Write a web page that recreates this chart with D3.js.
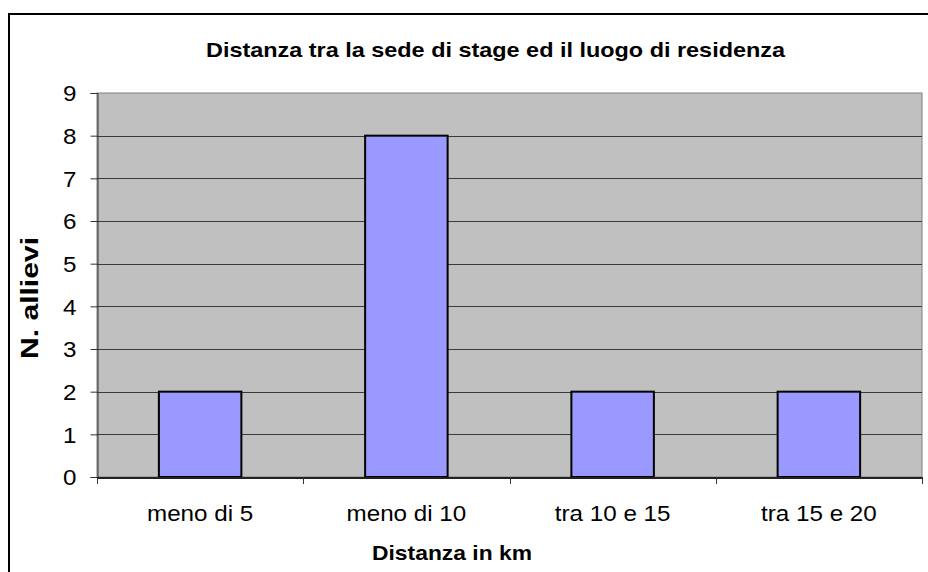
<!DOCTYPE html>
<html>
<head>
<meta charset="utf-8">
<script src="https://cdn.jsdelivr.net/npm/d3@7"></script>
<style>
  html, body { margin: 0; padding: 0; background: #fff; }
  svg { display: block; }
  text { font-family: "Liberation Sans", Arial, sans-serif; fill: #000; }
</style>
</head>
<body>
<svg id="chart" width="928" height="572"></svg>
<script>
const categories = ["meno di 5", "meno di 10", "tra 10 e 15", "tra 15 e 20"];
const values = [2, 8, 2, 2];
const yTicks = [0, 1, 2, 3, 4, 5, 6, 7, 8, 9];
const title = "Distanza tra la sede di stage ed il luogo di residenza";
const xTitle = "Distanza in km";
const yTitle = "N. allievi";

const svg = d3.select("#chart");
const W = 928, H = 572;
const plot = { left: 97, right: 922, top: 93, bottom: 477 };
const stretch = 1.1;

// outer frame (cut off at right and bottom)
svg.append("rect")
  .attr("x", 9).attr("y", 14)
  .attr("width", W).attr("height", H)
  .attr("fill", "#fff").attr("stroke", "#000").attr("stroke-width", 2);

const x = d3.scaleBand().domain(categories).range([plot.left, plot.right]).padding(0);
const y = d3.scaleLinear().domain([0, 9]).range([plot.bottom, plot.top]);

// plot background
svg.append("rect")
  .attr("x", plot.left).attr("y", plot.top)
  .attr("width", plot.right - plot.left).attr("height", plot.bottom - plot.top)
  .attr("fill", "#C0C0C0").attr("stroke", "#808080").attr("stroke-width", 1);

// gridlines
svg.append("g").selectAll("line")
  .data(yTicks.filter(t => t > 0 && t < 9))
  .join("line")
  .attr("x1", plot.left).attr("x2", plot.right)
  .attr("y1", d => Math.round(y(d)) + 0.5).attr("y2", d => Math.round(y(d)) + 0.5)
  .attr("stroke", "#3a3a3a").attr("stroke-width", 1);

// bars
const bw = x.step() * 0.4;
svg.append("g").selectAll("rect")
  .data(values)
  .join("rect")
  .attr("x", (d, i) => x(categories[i]) + (x.step() - bw) / 2)
  .attr("y", d => y(d))
  .attr("width", bw)
  .attr("height", d => y(0) - y(d))
  .attr("fill", "#9999FF").attr("stroke", "#000").attr("stroke-width", 2);

// y axis
const yAxis = svg.append("g")
  .attr("transform", `translate(${plot.left + 0.5},0)`)
  .call(d3.axisLeft(y).tickValues(yTicks).tickSize(7).tickPadding(14).tickFormat(d3.format("d")));
yAxis.select(".domain").attr("stroke", "#333");
yAxis.selectAll(".tick line").attr("stroke", "#333");
yAxis.selectAll(".tick text")
  .attr("font-size", 22)
  .attr("dy", "0.36em")
  .each(function () {
    const n = this.getComputedTextLength();
    d3.select(this).attr("textLength", n * stretch).attr("lengthAdjust", "spacingAndGlyphs");
  });

// x axis
const xAxis = svg.append("g")
  .attr("transform", `translate(0,${plot.bottom + 0.5})`)
  .call(d3.axisBottom(x).tickSize(0).tickPadding(0));
xAxis.select(".domain").attr("stroke", "#222").attr("stroke-width", 2);
xAxis.selectAll(".tick text")
  .attr("font-size", 22)
  .attr("y", 0).attr("dy", 44 - 0.5)
  .each(function () {
    const n = this.getComputedTextLength();
    d3.select(this).attr("textLength", n * stretch).attr("lengthAdjust", "spacingAndGlyphs");
  });
// boundary ticks
const bounds = categories.map(c => x(c)).concat([x.range()[1]]);
svg.append("g").selectAll("line")
  .data(bounds)
  .join("line")
  .attr("x1", d => Math.round(d) + 0.5).attr("x2", d => Math.round(d) + 0.5)
  .attr("y1", plot.bottom).attr("y2", plot.bottom + 7)
  .attr("stroke", "#333");

// title
svg.append("text")
  .attr("x", 495.5).attr("y", 57)
  .attr("text-anchor", "middle")
  .attr("font-size", 21).attr("font-weight", "bold")
  .attr("textLength", 579).attr("lengthAdjust", "spacingAndGlyphs")
  .text(title);

// x title
svg.append("text")
  .attr("x", 452).attr("y", 560)
  .attr("text-anchor", "middle")
  .attr("font-size", 21).attr("font-weight", "bold")
  .attr("textLength", 160).attr("lengthAdjust", "spacingAndGlyphs")
  .text(xTitle);

// y title
svg.append("text")
  .attr("transform", "translate(38,298) rotate(-90)")
  .attr("text-anchor", "middle")
  .attr("font-size", 23).attr("font-weight", "bold")
  .attr("textLength", 122).attr("lengthAdjust", "spacingAndGlyphs")
  .text(yTitle);
</script>
</body>
</html>
